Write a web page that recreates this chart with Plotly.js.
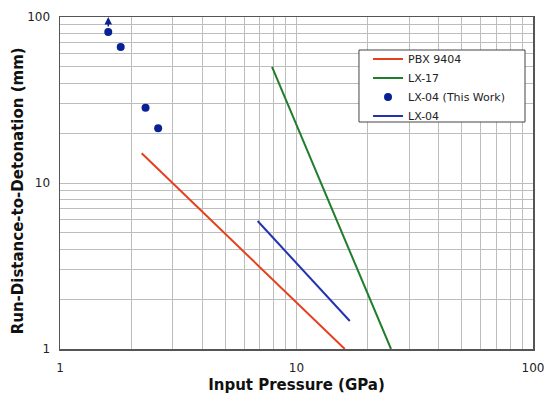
<!DOCTYPE html>
<html><head><meta charset="utf-8">
<script src="https://cdn.plot.ly/plotly-3.0.1.min.js"></script>
<style>html,body{margin:0;padding:0;background:#fff}#chart{width:546px;height:394px}</style>
</head><body><div id="chart"></div>
<script>
// Data
const pbxPressure = [2.215, 16.0];
const pbxRun = [15.1, 1.0];
const lx17Pressure = [7.88, 25.1];
const lx17Run = [50.0, 1.0];
const lx04ThisPressure = [1.60, 1.806, 2.30, 2.60];
const lx04ThisRun = [81.2, 65.9, 28.4, 21.4];
const lx04Pressure = [6.85, 16.8];
const lx04Run = [5.9, 1.475];
const arrowPressure = 1.60;
const arrowRun = 100;

const seriesNames = ['PBX 9404', 'LX-17', 'LX-04 (This Work)', 'LX-04'];

function logTicks(lo, hi) {
  const vals = [], txt = [];
  for (let d = lo; d < hi; d *= 10) {
    for (let m = 1; m <= 9; m++) {
      vals.push(d * m);
      txt.push(m === 1 ? String(d) : '');
    }
  }
  vals.push(hi); txt.push(String(hi));
  return {vals, txt};
}
const xt = logTicks(1, 100);
const yt = logTicks(1, 100);

const font = 'DejaVu Sans, Verdana, sans-serif';

const traces = [
  {x: pbxPressure, y: pbxRun, mode: 'lines', name: seriesNames[0],
   line: {color: '#e5401e', width: 2}},
  {x: lx17Pressure, y: lx17Run, mode: 'lines', name: seriesNames[1],
   line: {color: '#1f7d2b', width: 2}},
  {x: lx04ThisPressure, y: lx04ThisRun, mode: 'markers', name: seriesNames[2],
   marker: {color: '#0a2195', size: 8}},
  {x: lx04Pressure, y: lx04Run, mode: 'lines', name: seriesNames[3],
   line: {color: '#2233b0', width: 2}}
];

const axisCommon = {
  type: 'log',
  showgrid: true, gridcolor: '#bdbdbd', gridwidth: 1,
  showline: true, linecolor: '#555555', linewidth: 1.5, mirror: true,
  zeroline: false,
  ticks: 'outside', tickcolor: 'rgba(0,0,0,0)',
  tickfont: {family: font, size: 12, color: '#222'}
};

const layout = {
  width: 546, height: 394,
  margin: {l: 60, r: 13, t: 17, b: 45},
  paper_bgcolor: '#fff', plot_bgcolor: '#fff',
  font: {family: font},
  showlegend: true,
  legend: {
    x: 0.6512, y: 0.917, xanchor: 'left', yanchor: 'top',
    bgcolor: 'rgba(0,0,0,0)', borderwidth: 0,
    font: {family: font, size: 11, color: '#222'},
    itemwidth: 30
  },
  shapes: [{
    type: 'rect', xref: 'x domain', yref: 'y domain',
    x0: 0.6321, x1: 0.9831, y0: 0.6837, y1: 0.9006,
    fillcolor: '#ffffff', line: {color: '#444444', width: 1}, layer: 'above'
  }],
  xaxis: Object.assign({}, axisCommon, {
    range: [0, 2], tickmode: 'array', tickvals: xt.vals, ticktext: xt.txt,
    ticklen: 7,
    title: {text: '<b>Input Pressure (GPa)</b>', font: {family: font, size: 15, color: '#111'}, standoff: 15}
  }),
  yaxis: Object.assign({}, axisCommon, {
    range: [0, 2], tickmode: 'array', tickvals: yt.vals, ticktext: yt.txt,
    ticklen: 6,
    title: {text: '<b>Run-Distance-to-Detonation (mm)\u00A0\u00A0\u00A0</b>', font: {family: font, size: 15, color: '#111'}, standoff: 0}
  }),
  annotations: [{
    x: Math.log10(arrowPressure), y: Math.log10(arrowRun), xref: 'x', yref: 'y',
    text: '', showarrow: true, ax: 0, ay: 11,
    arrowhead: 2, arrowsize: 1, arrowwidth: 1.5, arrowcolor: '#0a2195'
  }]
};

Plotly.newPlot('chart', traces, layout, {displayModeBar: false, staticPlot: true});
</script>
</body></html>
